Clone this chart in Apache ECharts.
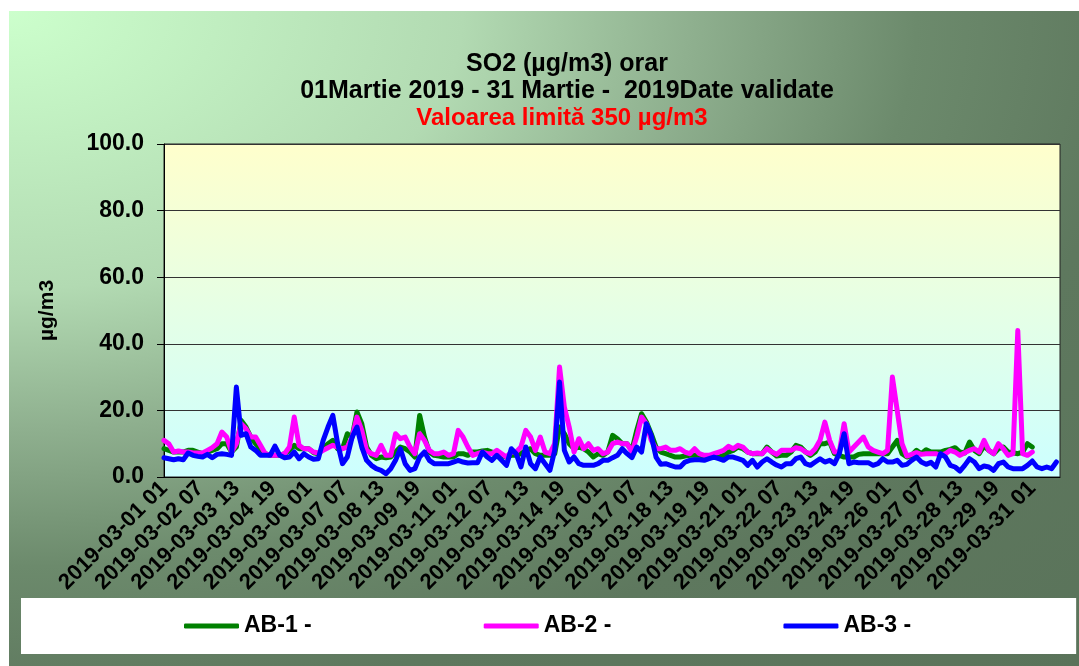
<!DOCTYPE html>
<html>
<head>
<meta charset="utf-8">
<script src="https://cdn.jsdelivr.net/npm/echarts@6/dist/echarts.min.js"></script>
<style>
  html, body { margin: 0; padding: 0; background: #fff; }
  #wrap { position: relative; width: 1079px; height: 666px; }
  #backdrop {
    position: absolute; left: 9px; top: 11px; right: 0; bottom: 0;
    background: radial-gradient(ellipse farthest-corner at 0% 0%,
      #ccffcc 0%, #b2dab2 30%, #8fb08f 45%, #6c8a6c 60%, #5e785e 75%, #5a735a 100%);
  }
  #chart { position: absolute; left: 0; top: 0; width: 1079px; height: 666px; }
</style>
</head>
<body>
<div id="wrap">
  <div id="backdrop"></div>
  <div id="chart"></div>
</div>
<script>
// valori citite la fiecare 4 ore (ora 0, 4, 8, ...)
const STEP = 4;

// categorii orare 2019-03-01 01 ... 2019-03-31 24
const hours = [];
for (let d = 1; d <= 31; d++) {
  for (let h = 1; h <= 24; h++) {
    hours.push('2019-03-' + String(d).padStart(2, '0') + ' ' + String(h).padStart(2, '0'));
  }
}

const yTicks = [0, 20, 40, 60, 80, 100];

const ab1 = [
  8.5, 8, 7.5, 7.5, 7.5, 8, 8, 7.5, 7, 7.5, 8, 8.5, 10, 10, 7.5, 9, 17, 15, 12, 10, 8.5, 7, 6.5, 6.5, 6.5, 7, 8, 9.5, 8.5, 8.5, 8.5, 7.3,
  7, 8.5, 10, 11, 8.5, 8.5, 13, 12, 19.5, 16, 9, 6.5, 5.5, 6, 5.8, 6, 7.5, 9, 8.5, 7.5, 6, 18.5, 12, 7.5, 6.5, 6.3, 6, 6, 6, 7, 7, 6.5,
  7.5, 7.5, 7.8, 8, 7.5, 7, 6.5, 6, 6.5, 6.5, 7, 8, 8.5, 7, 6.5, 6.5, 6.5, 7, 15, 13, 10, 8.5, 9, 8.5, 7.5, 6, 7, 6.5, 7.5, 12.5, 11.5, 10,
  10, 8, 14, 19, 16.5, 13, 9, 7.5, 7, 6.5, 6, 6, 6.3, 6.5, 6.5, 6.5, 6.3, 6.2, 6, 6, 6.5, 7.5, 8, 9, 8.5, 7.5, 7, 7, 7, 9, 7.5, 6.3,
  6.5, 6.5, 7.5, 9.5, 9, 7.5, 6.5, 7.5, 10, 10, 10.5, 7, 6.5, 6, 6, 6, 6.8, 7, 7, 7, 7, 7, 7, 9, 11, 7, 6, 6.5, 8, 7, 8.2, 7.5,
  7.5, 7.5, 8, 8.3, 8.8, 7.5, 7.2, 10.5, 8, 7, 9.3, 8, 7, 8.5, 9, 7.5, 7.3, 7, 7.5, 10, 9
];

const ab2 = [
  11, 10, 7.5, 7.8, 7.5, 7.5, 7.2, 7.2, 7.2, 8, 8.8, 10, 13.5, 12, 7.5, 10, 16, 14.5, 12, 12, 9.5, 7, 6.5, 6.5, 6.5, 7, 9, 18, 9.5, 8.5, 8.5, 7.5,
  7.2, 8, 8.8, 9.5, 9, 8.5, 9, 12, 18, 14, 8, 7, 6.5, 9.5, 6.5, 6.5, 13, 11.5, 12, 9, 7, 13, 11, 8, 7, 7, 7.5, 6.5, 7, 14, 12, 9,
  6.5, 7, 7.5, 7, 7, 8, 7, 6, 7.5, 7.5, 9, 14, 12, 8, 12, 7.5, 7, 10, 33, 21, 15, 7.5, 11.5, 8.5, 10, 8, 8.5, 7, 7.5, 10, 10.5, 10,
  10, 7.5, 12, 18, 16, 11, 8.5, 8.5, 9, 8, 8, 8.5, 7.5, 7, 8.5, 7, 6.5, 6.5, 7, 7.5, 8, 9.2, 8.5, 9.5, 9, 7.5, 7, 7.2, 7, 8.5, 7.5, 6.8,
  8, 8, 8, 8.8, 8.5, 7.5, 7, 8.5, 11, 16.5, 11, 7.5, 7.5, 16, 7.5, 9, 10.5, 12, 9, 8, 7.5, 7, 8, 30, 20, 10, 6.3, 6.8, 7.3, 6.8, 7, 7,
  7, 6.5, 7, 8, 7.5, 6.5, 7.3, 8, 8.5, 7.5, 11, 8, 7, 10, 8.5, 6.5, 7, 44, 7, 6.5, 7.5
];

const ab3 = [
  5.8, 5.5, 5.2, 5.5, 5.2, 7.2, 6.5, 6.2, 6, 6.8, 5.8, 6.8, 7, 6.8, 6.5, 27, 12.5, 13, 9, 8, 6.5, 6.5, 6.5, 9.3, 6.5, 5.8, 6, 7.5, 5.5, 7, 6, 5.3,
  5.5, 11, 15, 18.5, 10, 4, 6, 12, 15, 9, 5, 3.5, 2.5, 2, 1, 2.5, 5, 8.5, 4, 2, 2.5, 6, 7.5, 5, 4, 4, 4, 4, 4.5, 5, 4.5, 4.2,
  4.3, 4.3, 7.5, 6, 5, 6.5, 5, 3.5, 8.5, 7, 3, 9, 4, 2.5, 6, 4, 2, 8, 28.5, 8, 4.5, 6, 4, 3.5, 3.5, 3.5, 4, 5, 5, 5.8, 6.5, 8.5,
  7, 5.8, 9, 7.5, 16, 12.5, 6, 3.8, 4, 3.5, 3, 3, 4.5, 5, 5.2, 5.2, 5, 5.5, 6, 5.5, 5, 6, 6, 5.5, 5, 3.5, 5, 3, 4.5, 5.5, 4.5, 3.6,
  3, 4, 4, 5.5, 6, 4, 3.5, 4.5, 5.5, 4.5, 5, 4, 7, 13, 4, 4.5, 4.3, 4.3, 4.3, 3.5, 4, 5.5, 4.5, 4.5, 5, 3.5, 3.8, 5, 6, 4.5, 3.8, 4.4,
  3, 7, 6, 3.5, 3, 1.8, 3.5, 5.5, 4.5, 2.5, 3.3, 3, 2, 4, 4.5, 3, 2.5, 2.5, 2.5, 3.5, 4.8, 3, 2.5, 3, 2.5, 4.5
];

const FONT = "'Liberation Sans', Arial, sans-serif";

function pairs(arr) {
  return arr.map((v, i) => [i * STEP, v]);
}

const chart = echarts.init(document.getElementById('chart'));

function lineSeries(name, color, arr) {
  return {
    name: name,
    type: 'line',
    color: color,
    symbol: 'none',
    data: pairs(arr),
    lineStyle: { width: 5, color: color, cap: 'round', join: 'round' },
    animation: false
  };
}

chart.setOption({
  backgroundColor: 'transparent',
  animation: false,
  textStyle: { fontFamily: FONT },
  title: [
    {
      text: 'SO2 (µg/m3) orar\n01Martie 2019 - 31 Martie -  2019Date validate',
      left: 562,
      top: 46,
      textAlign: 'center',
      textStyle: { fontFamily: FONT, fontSize: 25, fontWeight: 'bold', color: '#000', lineHeight: 27 }
    },
    {
      text: 'Valoarea limită 350 µg/m3',
      left: 557,
      top: 100,
      textAlign: 'center',
      textStyle: { fontFamily: FONT, fontSize: 24, fontWeight: 'bold', color: '#ff0000', lineHeight: 27 }
    }
  ],
  legend: {
    data: ['AB-1 -', 'AB-2 -', 'AB-3 -'],
    left: 21,
    top: 598,
    padding: [15, 165, 15, 163],
    itemGap: 172,
    itemWidth: 55,
    itemHeight: 5,
    icon: 'roundRect',
    backgroundColor: '#ffffff',
    textStyle: { fontFamily: FONT, fontSize: 23, fontWeight: 'bold', color: '#000', lineHeight: 26 }
  },
  grid: {
    left: 164,
    right: 19,
    top: 144,
    bottom: 189,
    show: true,
    borderColor: '#222',
    borderWidth: 1,
    backgroundColor: {
      type: 'linear', x: 0, y: 0, x2: 0, y2: 1,
      colorStops: [
        { offset: 0, color: '#ffffcc' },
        { offset: 1, color: '#ccffff' }
      ]
    }
  },
  xAxis: {
    type: 'category',
    data: hours,
    boundaryGap: false,
    axisLine: { lineStyle: { color: '#000', width: 1 } },
    axisTick: { show: false },
    splitLine: { show: false },
    axisLabel: {
      interval: 29,
      rotate: 45,
      margin: 8,
      color: '#000',
      fontFamily: FONT,
      fontSize: 22,
      fontWeight: 'bold'
    }
  },
  yAxis: {
    type: 'value',
    min: yTicks[0],
    max: yTicks[yTicks.length - 1],
    interval: 20,
    name: 'µg/m3',
    nameLocation: 'middle',
    nameGap: 106,
    nameTextStyle: { fontFamily: FONT, fontSize: 21, fontWeight: 'bold', color: '#000' },
    axisLine: { show: true, lineStyle: { color: '#000', width: 1 } },
    axisTick: { show: true, length: 7, lineStyle: { color: '#000' } },
    splitLine: { show: true, lineStyle: { color: '#333', width: 1 } },
    axisLabel: {
      margin: 20,
      color: '#000',
      fontFamily: FONT,
      fontSize: 23,
      fontWeight: 'bold',
      formatter: v => v.toFixed(1)
    }
  },
  series: [
    lineSeries('AB-1 -', '#008000', ab1),
    lineSeries('AB-2 -', '#ff00ff', ab2),
    lineSeries('AB-3 -', '#0000ff', ab3)
  ]
});
</script>
</body>
</html>
